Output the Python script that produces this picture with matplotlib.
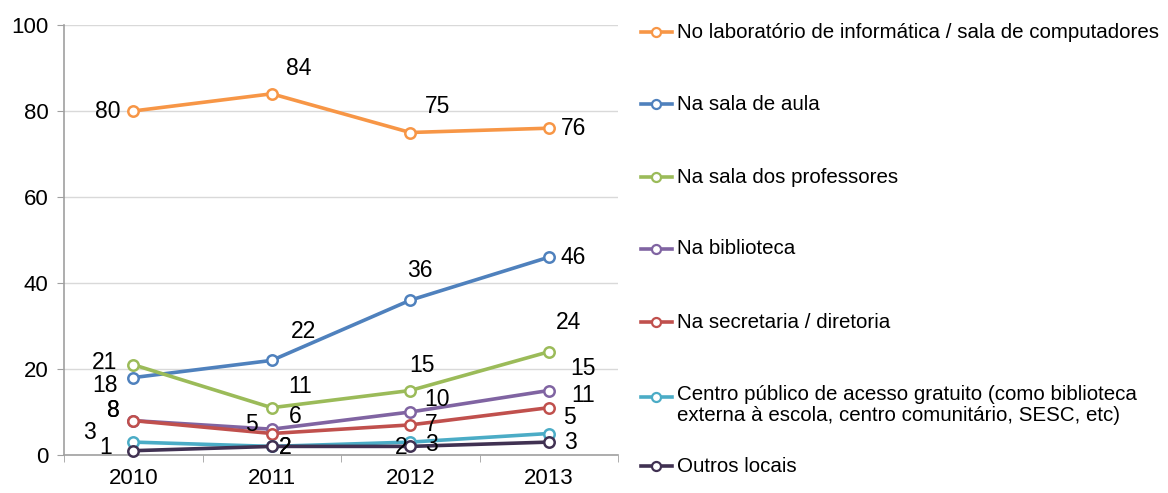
import matplotlib
matplotlib.use("Agg")
import matplotlib.pyplot as plt
from matplotlib.lines import Line2D

plt.rcParams['font.family'] = ['Liberation Sans', 'DejaVu Sans']

years = ["2010", "2011", "2012", "2013"]
series_names = [
    "No laboratório de informática / sala de computadores",
    "Na sala de aula",
    "Na sala dos professores",
    "Na biblioteca",
    "Na secretaria / diretoria",
    "Centro público de acesso gratuito (como biblioteca\nexterna à escola, centro comunitário, SESC, etc)",
    "Outros locais",
]
laboratorio = [80, 84, 75, 76]
sala_aula = [18, 22, 36, 46]
sala_professores = [21, 11, 15, 24]
biblioteca = [8, 6, 10, 15]
secretaria = [8, 5, 7, 11]
centro_publico = [3, 2, 3, 5]
outros = [1, 2, 2, 3]
values = [laboratorio, sala_aula, sala_professores, biblioteca, secretaria, centro_publico, outros]
y_ticks = [0, 20, 40, 60, 80, 100]

colors = ["#F79646", "#4F81BD", "#9BBB59", "#8064A2", "#C0504D", "#4BACC6", "#403152"]

# label offsets (pixels, +dy = up) for each series / year: (dx, dy, ha)
label_offsets = [
    [(-13, 0, 'right'), (27, 25, 'center'), (27, 26, 'center'), (12, 0, 'left')],
    [(-16, -8, 'right'), (32, 29, 'center'), (10, 30, 'center'), (12, 0, 'left')],
    [(-16, 2, 'right'), (28, 21, 'center'), (12, 25, 'center'), (20, 29, 'center')],
    [(-14, 10, 'right'), (24, 13, 'center'), (27, 13, 'center'), (34, 22, 'center')],
    [(-14, 10, 'right'), (-20, 9, 'center'), (21, 0, 'center'), (34, 12, 'center')],
    [(-37, 10, 'right'), (13, -1, 'center'), (21, -2, 'center'), (21, 16, 'center')],
    [(-21, 3, 'right'), (13, -1, 'center'), (-9, -1, 'center'), (22, 0, 'center')],
]

fig = plt.figure(figsize=(11.68, 4.93), dpi=100)
ax = fig.add_axes([64 / 1168, 1 - 455 / 493, (618 - 64) / 1168, 430 / 493])

x = list(range(len(years)))
for vals, col, offs in zip(values, colors, label_offsets):
    ax.plot(x, vals, color=col, lw=2.6, marker='o', markersize=7.5,
            markerfacecolor='white', markeredgecolor=col, markeredgewidth=1.8,
            zorder=3, clip_on=False)
    for xi, v, (dx, dy, ha) in zip(x, vals, offs):
        ax.annotate(str(v), (xi, v), xytext=(dx, dy), textcoords='offset pixels',
                    ha=ha, va='center', fontsize=16.5, color='black', zorder=5)

ax.set_xlim(-0.5, 3.5)
ax.set_ylim(0, 100)
ax.set_yticks(y_ticks)
ax.set_yticklabels([str(t) for t in y_ticks], fontsize=16)
ax.set_xticks(x)
ax.set_xticklabels(years, fontsize=16)
ax.set_xticks([-0.5, 0.5, 1.5, 2.5, 3.5], minor=True)
ax.tick_params(axis='x', which='major', length=0, pad=9)
ax.tick_params(axis='x', which='minor', length=5, color='#A0A0A0', direction='out')
ax.tick_params(axis='y', length=5, color='#A0A0A0', direction='out', pad=6)
ax.grid(axis='y', color='#D9D9D9', lw=1)
ax.set_axisbelow(True)
for s in ['top', 'right']:
    ax.spines[s].set_visible(False)
for s in ['left', 'bottom']:
    ax.spines[s].set_color('#A0A0A0')
    ax.spines[s].set_linewidth(1.2)

# Legend drawn manually on the right
legend_y = [32, 104, 177, 249, 322, 397, 466]
for name, col, yy in zip(series_names, colors, legend_y):
    yf = 1 - yy / 493
    fig.add_artist(Line2D([641 / 1168, 672 / 1168], [yf, yf], color=col, lw=2.6,
                          transform=fig.transFigure))
    fig.add_artist(Line2D([656 / 1168], [yf], color=col, marker='o', markersize=6.5,
                          markerfacecolor='white', markeredgecolor=col, markeredgewidth=1.6,
                          transform=fig.transFigure))
    if '\n' in name:
        fig.text(677 / 1168, 1 - (yy - 12) / 493, name, ha='left', va='top',
                 fontsize=14.8, color='black', linespacing=1.15)
    else:
        fig.text(677 / 1168, yf, name, ha='left', va='center', fontsize=14.8, color='black')

fig.savefig("out.png", dpi=100)
